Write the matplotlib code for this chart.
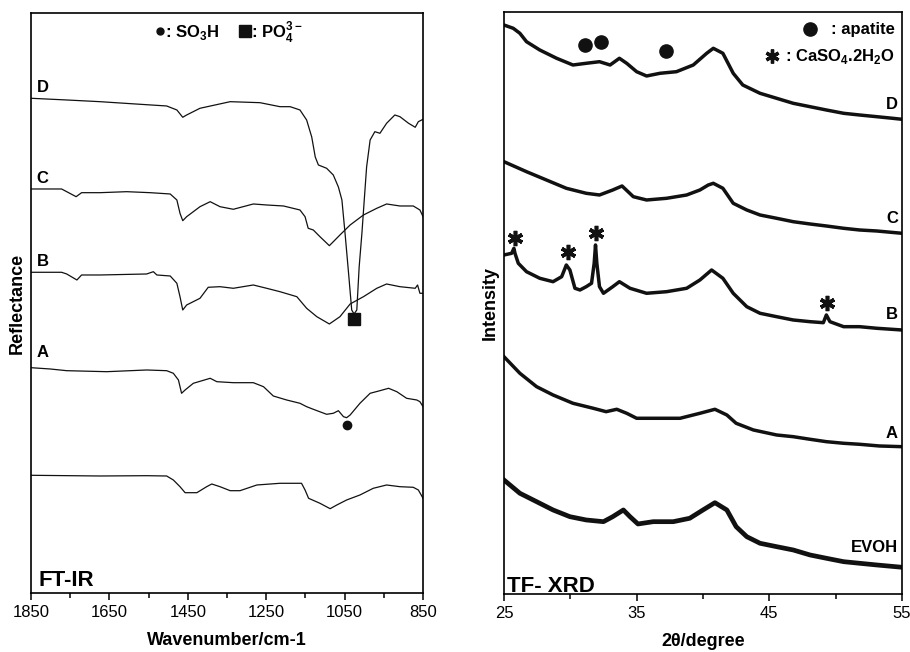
import numpy as np
import matplotlib
matplotlib.use('Agg')
import matplotlib.pyplot as plt

plt.rcParams['font.family'] = ['Liberation Sans', 'DejaVu Sans']
plt.rcParams['mathtext.fontset'] = 'custom'
plt.rcParams['mathtext.rm'] = 'Liberation Sans:bold'
plt.rcParams['mathtext.bf'] = 'Liberation Sans:bold'

## ==========================
## FT-IR spectra (arb. units)
## ==========================
ir_d_wn = [1850, 1759, 1674, 1572, 1504, 1478, 1463, 1453, 1419, 1342, 1266, 1215, 1189, 1164, 1147,
           1134, 1125, 1117, 1096, 1079, 1066, 1057, 1049, 1040, 1032, 1026, 1019, 1013, 1006, 1000,
           994, 985, 973, 960, 943, 922, 909, 887, 870, 862, 850]
ir_d = [494.7, 493, 491.3, 488.7, 487, 483, 475.7, 478, 484.7, 491.3, 490.3, 486.3, 486.3, 483, 473,
        456, 436, 428, 424.7, 418, 406, 393, 359.7, 319.7, 283, 279, 283, 326, 359.7, 393,
        426, 453, 461.3, 459.7, 469.7, 478, 476.3, 469.7, 465.7, 471.3, 473.7]

ir_c_wn = [1850, 1772, 1759, 1735, 1721, 1674, 1606, 1546, 1495, 1478, 1470, 1463, 1453, 1419, 1393,
           1368, 1334, 1283, 1249, 1206, 1164, 1151, 1143, 1130, 1113, 1089, 1062, 1036, 1002, 968,
           943, 909, 875, 858, 850]
ir_c = [404, 404, 401.3, 396.3, 400.3, 400.3, 401.3, 400.3, 399, 393, 379.7, 372.3, 376.3, 386.3, 391.3,
        386.3, 383.7, 389, 388, 387, 383, 376.3, 364.7, 363, 356.3, 347.3, 358, 368, 378, 384.7,
        389, 387, 387, 383, 376.3]

ir_b_wn = [1850, 1772, 1759, 1733, 1721, 1674, 1555, 1538, 1529, 1495, 1478, 1470, 1463, 1453, 1419,
           1398, 1368, 1334, 1283, 1249, 1215, 1172, 1147, 1121, 1089, 1062, 1036, 1002, 968, 943,
           909, 870, 864, 858, 850]
ir_b = [320.7, 320.7, 319, 313, 318, 318, 319, 321.3, 318, 317, 309.7, 296.3, 283, 288, 294.7,
        305.7, 306.3, 304.7, 308, 304.7, 301.3, 296.3, 284.7, 276.3, 269, 276.3, 289, 296.3, 304.7, 309,
        306.3, 304.7, 308, 299.7, 299.7]

ir_a_wn = [1850, 1801, 1759, 1657, 1555, 1504, 1487, 1474, 1466, 1457, 1436, 1393, 1376, 1334, 1283,
           1257, 1232, 1198, 1164, 1147, 1130, 1096, 1079, 1066, 1053, 1045, 1036, 1011, 985, 960,
           938, 917, 892, 866, 858, 850]
ir_a = [225.3, 224, 222.3, 221.3, 223, 222.3, 219.7, 213, 199.7, 203, 209.7, 214.7, 211.3, 210.3, 210.3,
        206.3, 197, 193, 189.7, 186.3, 183.7, 178.7, 179.7, 182.3, 176.3, 175.3, 178, 189.7, 199.7, 202.3,
        204.7, 201.3, 194.7, 193, 191.3, 186.3]

ir_evoh_wn = [1850, 1750, 1674, 1555, 1504, 1487, 1470, 1457, 1427, 1402, 1389, 1368, 1342, 1317, 1274,
              1215, 1160, 1151, 1142, 1113, 1087, 1070, 1045, 1011, 977, 943, 909, 875, 862, 850]
ir_evoh = [117.7, 117.3, 117, 117.3, 117, 113, 106.3, 100.3, 100.3, 106.3, 109, 106.3, 102.3, 102.3, 108,
           109.7, 109.7, 103, 94.7, 89.7, 84.3, 88, 93, 98, 104.7, 108, 106.3, 105.7, 103, 94.7]

so3h_wn, so3h_val = [1045], [168]
po4_wn, po4_val = [1026], [274]

## ==========================
## TF-XRD patterns (arb. units)
## ==========================
xrd_d_tt = [25, 25.7, 26.2, 26.7, 27.7, 28.97, 30.2, 31.2, 32.2, 33.0, 33.7, 34.25, 35.0, 35.75, 36.76,
            38.0, 39.27, 40.28, 40.78, 41.5, 42.28, 43.0, 44.3, 45.55, 46.8, 48.07, 49.3, 50.6, 51.8, 53.1,
            54.3, 55]
xrd_d = [569, 565.7, 560.7, 552.3, 544, 535.7, 529, 530.7, 532.3, 529, 535.7, 530.7, 522.3, 518, 520.7,
         522.3, 529, 540.7, 545.7, 540.7, 520.7, 509, 500.7, 495.7, 490.7, 487.3, 484, 480.7, 479, 477.3,
         475.7, 474.7]

xrd_c_tt = [25, 26.7, 28.2, 29.7, 31.2, 32.2, 33.2, 33.9, 34.75, 35.75, 37.26, 38.77, 39.77, 40.4, 40.78,
            41.5, 42.28, 43.3, 44.3, 45.55, 46.8, 48.07, 49.3, 50.6, 51.8, 53.1, 55]
xrd_c = [432.3, 422.3, 414, 405.7, 400.7, 399, 404, 408, 397.3, 394, 395.7, 399, 404, 409, 410.7,
         405.7, 390.7, 384, 379, 375.7, 372.3, 370, 368, 365.7, 364, 363, 360.7]

xrd_b_tt = [25, 25.58, 25.75, 25.83, 26.08, 26.7, 27.7, 28.7, 29.35, 29.7, 29.97, 30.35, 30.73, 31.2, 31.6,
            31.8, 31.9, 32.0, 32.2, 32.5, 33.2, 33.7, 34.5, 35.75, 37.26, 38.77, 39.77, 40.65, 41.5, 42.28,
            43.3, 44.3, 45.55, 46.8, 48.07, 49.07, 49.3, 49.57, 50.6, 51.8, 53.1, 55]
xrd_b = [339, 340.7, 345.7, 340.7, 330.7, 322.3, 315.7, 312.3, 317.3, 329, 324, 305.7, 304, 307.3, 310.7,
         330.7, 349, 330.7, 307.3, 300.7, 307.3, 312.3, 305.7, 300.7, 302.3, 305.7, 314, 324, 315.7, 300.7,
         287.3, 280.7, 277.3, 274, 272.3, 271.3, 279, 272.3, 267.3, 267.3, 265.7, 264]

xrd_a_tt = [25, 26.2, 27.46, 28.7, 30.2, 31.73, 32.7, 33.5, 34.25, 35.0, 36.76, 38.27, 39.77, 40.9, 41.8,
            42.5, 43.8, 45.55, 46.8, 48.07, 49.3, 50.6, 51.8, 53.3, 55]
xrd_a = [237.3, 220.7, 207.3, 199, 190.7, 185.7, 182.3, 184.7, 180.7, 175.7, 175.7, 175.7, 180.7, 184.7, 179,
         170.7, 164, 159, 157.3, 154.7, 152.3, 150.7, 149.7, 148, 147.3]

xrd_evoh_tt = [25, 26.2, 27.46, 28.7, 29.97, 31.2, 32.5, 33.2, 34.0, 34.5, 35.1, 36.25, 37.76, 39.0, 40.0,
               40.9, 41.8, 42.5, 43.3, 44.3, 45.55, 46.8, 48.07, 49.3, 50.6, 51.8, 53.1, 55]
xrd_evoh = [114, 100.7, 92.3, 84, 77.3, 74, 72.3, 77.3, 84, 77.3, 70, 72.3, 72.3, 75.7, 84,
            91.3, 84, 67.3, 57.3, 50.7, 47.3, 44, 39, 35.7, 32.3, 30.7, 29, 26.7]

apatite_tt, apatite_val = [31.1, 32.3, 37.2], [549, 552, 543]
gypsum_tt, gypsum_val = [25.83, 29.8, 31.93, 49.35], [356, 342, 361, 291]

asterisk = (6, 2, 0)
ink = '#111111'

fig = plt.figure(figsize=(9.1, 6.52), dpi=100)
ax1 = fig.add_axes([0.0341, 0.0905, 0.4308, 0.8896])
ax2 = fig.add_axes([0.5538, 0.0890, 0.4374, 0.8926])

## ---- FT-IR panel ----
for wn, val in [(ir_d_wn, ir_d), (ir_c_wn, ir_c), (ir_b_wn, ir_b), (ir_a_wn, ir_a), (ir_evoh_wn, ir_evoh)]:
    ax1.plot(wn, val, color=ink, lw=0.9)
ax1.plot(so3h_wn, so3h_val, 'o', color=ink, ms=6)
ax1.plot(po4_wn, po4_val, 's', color=ink, ms=8.5)

for lab, yy in [('D', 505), ('C', 414), ('B', 331), ('A', 240)]:
    ax1.text(1836, yy, lab, fontsize=12, fontweight='bold', ha='left', va='center')
ax1.text(0.018, 0.012, 'FT-IR', transform=ax1.transAxes, fontsize=16, fontweight='bold',
         ha='left', va='baseline')

# header key: dot = SO3H, square = PO4
ax1.plot([0.329], [0.969], 'o', transform=ax1.transAxes, color=ink, ms=5, clip_on=False)
ax1.text(0.343, 0.967, ': SO$_\mathbf{3}$H', transform=ax1.transAxes, fontsize=12,
         fontweight='bold', ha='left', va='center')
ax1.plot([0.546], [0.969], 's', transform=ax1.transAxes, color=ink, ms=8.5, clip_on=False)
ax1.text(0.560, 0.967, ': PO$_\mathbf{4}^\mathbf{3-}$', transform=ax1.transAxes, fontsize=12,
         fontweight='bold', ha='left', va='center')

ax1.set_xlim(1850, 850)
ax1.set_ylim(0, 580)
ax1.set_xticks(np.arange(1850, 849, -200))
ax1.set_xticks(np.arange(1750, 850, -200), minor=True)
ax1.set_yticks([])
ax1.set_xlabel('Wavenumber/cm-1', fontsize=13, fontweight='bold', labelpad=8)
ax1.set_ylabel('Reflectance', fontsize=13, fontweight='bold', labelpad=4)

## ---- TF-XRD panel ----
for tt, val, w in [(xrd_d_tt, xrd_d, 2.5), (xrd_c_tt, xrd_c, 2.5), (xrd_b_tt, xrd_b, 2.5),
                   (xrd_a_tt, xrd_a, 2.5), (xrd_evoh_tt, xrd_evoh, 3.4)]:
    ax2.plot(tt, val, color=ink, lw=w, solid_joinstyle='round')
ax2.plot(apatite_tt, apatite_val, 'o', color=ink, ms=9.5)
ax2.plot(gypsum_tt, gypsum_val, marker=asterisk, ls='none', color=ink, ms=11, mew=2.6)

for lab, yy in [('D', 489), ('C', 375), ('B', 279), ('A', 160), ('EVOH', 46)]:
    ax2.text(54.7, yy, lab, fontsize=12, fontweight='bold', ha='right', va='center')
ax2.text(0.008, 0.004, 'TF- XRD', transform=ax2.transAxes, fontsize=16, fontweight='bold',
         ha='left', va='baseline')

# legend symbols + text
ax2.plot([0.769], [0.970], 'o', transform=ax2.transAxes, color=ink, ms=9.5, clip_on=False)
ax2.text(0.982, 0.970, ': apatite', transform=ax2.transAxes, fontsize=12, fontweight='bold',
         ha='right', va='center')
ax2.plot([0.673], [0.924], marker=asterisk, transform=ax2.transAxes, color=ink, ms=10, mew=2.4,
         clip_on=False)
ax2.text(0.982, 0.924, ': CaSO$_\mathbf{4}$.2H$_\mathbf{2}$O', transform=ax2.transAxes, fontsize=12,
         fontweight='bold', ha='right', va='center')

ax2.set_xlim(25, 55)
ax2.set_ylim(0, 582)
ax2.set_xticks([25, 35, 45, 55])
ax2.set_xticks([30, 40, 50], minor=True)
ax2.set_yticks([])
ax2.set_xlabel('2θ/degree', fontsize=13, fontweight='bold', labelpad=8)
ax2.set_ylabel('Intensity', fontsize=13, fontweight='bold', labelpad=4)

for ax in (ax1, ax2):
    for sp in ax.spines.values():
        sp.set_linewidth(1.2)
    ax.tick_params(axis='x', which='major', direction='out', length=5, width=1.1, labelsize=12, pad=4)
    ax.tick_params(axis='x', which='minor', direction='out', length=3.5, width=1.1)

fig.savefig('out.png', dpi=100)
